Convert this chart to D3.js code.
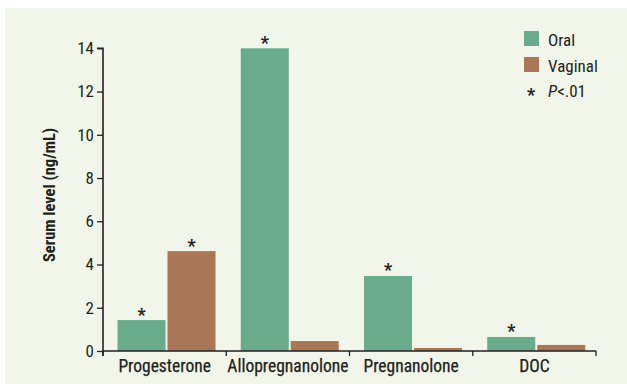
<!DOCTYPE html>
<html><head><meta charset="utf-8">
<script src="https://cdn.jsdelivr.net/npm/d3@7"></script>
<style>body{margin:0;background:#fff;} svg{display:block;}</style>
</head><body>
<svg id="chart" width="627" height="384"></svg>
<script>
const categories = ["Progesterone", "Allopregnanolone", "Pregnanolone", "DOC"];
const seriesNames = ["Oral", "Vaginal"];
const oralValues = [1.43, 14.0, 3.47, 0.65];
const vaginalValues = [4.62, 0.46, 0.14, 0.28];
const oralSig = [true, true, true, true];
const vaginalSig = [true, false, false, false];
const yTicks = [0, 2, 4, 6, 8, 10, 12, 14];
const yLabel = "Serum level (ng/mL)";
const colors = {Oral: "#6aab8e", Vaginal: "#a97757"};
const textColor = "#231f20";
const font = "'Liberation Sans Narrow', 'Roboto Condensed', 'Liberation Sans', Arial, sans-serif";

const svg = d3.select("#chart");
svg.append("rect").attr("x", 5).attr("y", 8).attr("width", 622).attr("height", 376).attr("fill", "#f2f5e9");

const x0 = 103, x1 = 596, yTop = 48.3, yBot = 351;
const y = d3.scaleLinear().domain([0, 14]).range([yBot, yTop]);
const x = d3.scaleBand().domain(categories).range([x0, x1]).padding(0);

const data = categories.map((c, i) => ({cat: c, vals: [
  {s: "Oral", v: oralValues[i], sig: oralSig[i]},
  {s: "Vaginal", v: vaginalValues[i], sig: vaginalSig[i]}]}));

const barW = 48, gap = 2, offset = 14.5;
const xs = d3.scaleOrdinal().domain(seriesNames).range([offset, offset + barW + gap]);

const g = svg.append("g");
data.forEach(d => {
  d.vals.forEach(b => {
    const bx = x(d.cat) + xs(b.s);
    g.append("rect").attr("x", bx).attr("y", y(b.v)).attr("width", barW)
      .attr("height", y(0) - y(b.v)).attr("fill", colors[b.s]);
    if (b.sig) {
      g.append("text").attr("x", bx + barW / 2).attr("y", y(b.v) + 0.5)
        .attr("text-anchor", "middle").attr("font-family", font).attr("font-size", 18)
        .attr("font-weight", "bold").attr("fill", textColor).text("*");
    }
  });
});

// y axis
const yAxis = d3.axisLeft(y).tickValues(yTicks).tickSize(6).tickPadding(3).tickFormat(d3.format("d"));
const ya = svg.append("g").attr("transform", `translate(${x0},0)`).call(yAxis);
ya.select(".domain").attr("stroke", textColor).attr("stroke-width", 1.6).attr("d", `M-6,${yTop}H0V${yBot + 5}`);
ya.selectAll(".tick line").attr("stroke", textColor).attr("stroke-width", 1.3);
ya.selectAll(".tick text").attr("font-family", font).attr("font-size", 17).attr("fill", textColor);

// x axis
const xAxis = d3.axisBottom(x).tickSize(0).tickPadding(9);
const xa = svg.append("g").attr("transform", `translate(0,${yBot})`).call(xAxis);
xa.select(".domain").attr("stroke", textColor).attr("stroke-width", 1.6).attr("d", `M${x0},0H${x1}`);
xa.selectAll(".tick text").attr("font-family", font).attr("font-size", 17.5).attr("fill", textColor)
  .attr("stroke", textColor).attr("stroke-width", 0.25);
const bounds = [x0].concat(categories.map(c => x(c) + x.bandwidth()));
xa.selectAll(".bound").data(bounds).enter().append("line").attr("class", "bound")
  .attr("x1", d => d).attr("x2", d => d).attr("y1", 0).attr("y2", 5)
  .attr("stroke", textColor).attr("stroke-width", 1.3);

// y label
svg.append("text").attr("transform", `translate(54.5,195) rotate(-90)`)
  .attr("text-anchor", "middle").attr("font-family", font).attr("font-size", 16.5)
  .attr("font-weight", "bold").attr("fill", textColor).text(yLabel);

// legend
const leg = svg.append("g");
seriesNames.forEach((s, i) => {
  leg.append("rect").attr("x", 524).attr("y", 31 + i * 26).attr("width", 15).attr("height", 15).attr("fill", colors[s]);
  leg.append("text").attr("x", 548).attr("y", 46 + i * 26).attr("font-family", font).attr("font-size", 17)
    .attr("fill", textColor).text(s);
});
leg.append("text").attr("x", 531).attr("y", 101).attr("text-anchor", "middle").attr("font-family", font)
  .attr("font-size", 18).attr("font-weight", "bold").attr("fill", textColor).text("*");
const pt = leg.append("text").attr("x", 548).attr("y", 97).attr("font-family", font).attr("font-size", 17).attr("fill", textColor);
pt.append("tspan").attr("font-style", "italic").text("P");
pt.append("tspan").text("<.01");
</script>
</body></html>
